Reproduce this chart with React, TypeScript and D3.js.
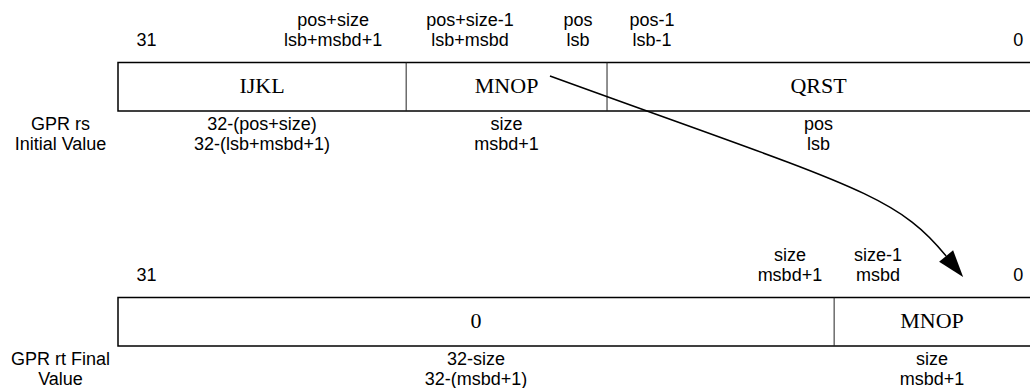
import React from "react";
import * as d3 from "d3";

// ---- Data (bit positions on a schematic 32-bit register scale) ----
const topFieldNames = ["IJKL", "MNOP", "QRST"];
const topFieldBounds = [32, 21.9, 14.86, 0];
const topFieldWidths = [
  ["32-(pos+size)", "32-(lsb+msbd+1)"],
  ["size", "msbd+1"],
  ["pos", "lsb"],
];
const topBitLabelPos = [31, 24.46, 19.66, 15.88, 13.28, 0.45];
const topBitLabelText = [
  ["31"],
  ["pos+size", "lsb+msbd+1"],
  ["pos+size-1", "lsb+msbd"],
  ["pos", "lsb"],
  ["pos-1", "lsb-1"],
  ["0"],
];

const bottomFieldNames = ["0", "MNOP"];
const bottomFieldBounds = [32, 6.9, 0];
const bottomFieldWidths = [
  ["32-size", "32-(msbd+1)"],
  ["size", "msbd+1"],
];
const bottomBitLabelPos = [31, 8.45, 5.36, 0.45];
const bottomBitLabelText = [["31"], ["size", "msbd+1"], ["size-1", "msbd"], ["0"]];

const rowNames = [
  ["GPR rs", "Initial Value"],
  ["GPR rt Final", "Value"],
];

// arrow: from the source field (bit) to the destination field (bit)
const arrowFromBit = 16.86;
const arrowToBit = 2.38;

const W = 1030;
const H = 388;
const SANS = "'Liberation Sans', Arial, sans-serif";
const SERIF = "'Liberation Serif', 'Times New Roman', serif";

const x = d3.scaleLinear().domain([32, 0]).range([118, 1031]);

type RowProps = {
  names: string[];
  bounds: number[];
  widths: string[][];
  labelPos: number[];
  labelText: string[][];
  rowName: string[];
  top: number; // y of box top
};

function Register({ names, bounds, widths, labelPos, labelText, rowName, top }: RowProps) {
  const boxH = 48.5;
  const x0 = x(bounds[0]);
  const x1 = x(bounds[bounds.length - 1]);
  const visRight = Math.min(x1, W);
  const lblBase2 = top - 17; // second line baseline above box
  const lineGap = 19.7;
  const belowBase1 = top + boxH + 19;
  return (
    <g>
      <rect x={x0} y={top} width={x1 - x0 + 4} height={boxH} fill="#fff" stroke="#000" strokeWidth={1.5} />
      {bounds.slice(1, -1).map((b, i) => (
        <line key={i} x1={x(b)} x2={x(b)} y1={top} y2={top + boxH} stroke="#222" strokeWidth={1} />
      ))}
      {names.map((n, i) => {
        const a = x(bounds[i]);
        const b = Math.min(x(bounds[i + 1]), visRight);
        return (
          <text key={n + i} x={(a + b) / 2} y={top + 30.5} textAnchor="middle" fontFamily={SERIF} fontSize={22} fill="#000">
            {n}
          </text>
        );
      })}
      {widths.map((lines, i) => {
        const a = x(bounds[i]);
        const b = Math.min(x(bounds[i + 1]), visRight);
        return lines.map((t, j) => (
          <text key={i + "-" + j} x={(a + b) / 2} y={belowBase1 + j * 20} textAnchor="middle" fontFamily={SANS} fontSize={18} fill="#000">
            {t}
          </text>
        ));
      })}
      {labelPos.map((p, i) => {
        const lines = labelText[i];
        return lines.map((t, j) => (
          <text
            key={i + "-" + j}
            x={x(p)}
            y={lblBase2 - (lines.length - 1 - j) * lineGap}
            textAnchor="middle"
            fontFamily={SANS}
            fontSize={18}
            fill="#000"
          >
            {t}
          </text>
        ));
      })}
      {rowName.map((t, j) => (
        <text key={"rn" + j} x={60.5} y={belowBase1 + j * 20} textAnchor="middle" fontFamily={SANS} fontSize={18} fill="#000">
          {t}
        </text>
      ))}
    </g>
  );
}

export default function App() {
  const topY = 62.5;
  const botY = 297.5;

  // arrow geometry
  const sx = x(arrowFromBit);
  const sy = topY + 13.5;
  const tx = x(arrowToBit);
  const ty = botY - 20.5;
  const dir = [0.629, 0.777];
  const headLen = 27;
  const headHalf = 9;
  const bx = tx - dir[0] * headLen;
  const by = ty - dir[1] * headLen;
  const dx = bx - sx;
  const dy = by - sy;
  const p = d3.path();
  p.moveTo(sx, sy);
  p.bezierCurveTo(sx + 0.758 * dx, sy + 0.606 * dy, bx - dir[0] * 80, by - dir[1] * 80, bx, by);
  const perp = [-dir[1], dir[0]];
  const head = [
    [tx, ty],
    [bx + perp[0] * headHalf, by + perp[1] * headHalf],
    [bx - perp[0] * headHalf, by - perp[1] * headHalf],
  ];

  return (
    <svg
      width={W}
      height={H}
      viewBox={`0 0 ${W} ${H}`}
      style={{ position: "absolute", left: 0, top: 0, background: "#fff" }}
    >
      <rect x={0} y={0} width={W} height={H} fill="#fff" />
      <Register
        names={topFieldNames}
        bounds={topFieldBounds}
        widths={topFieldWidths}
        labelPos={topBitLabelPos}
        labelText={topBitLabelText}
        rowName={rowNames[0]}
        top={topY}
      />
      <Register
        names={bottomFieldNames}
        bounds={bottomFieldBounds}
        widths={bottomFieldWidths}
        labelPos={bottomBitLabelPos}
        labelText={bottomBitLabelText}
        rowName={rowNames[1]}
        top={botY}
      />
      <path d={p.toString()} fill="none" stroke="#000" strokeWidth={1.5} />
      <polygon points={head.map((q) => q.join(",")).join(" ")} fill="#000" />
    </svg>
  );
}
